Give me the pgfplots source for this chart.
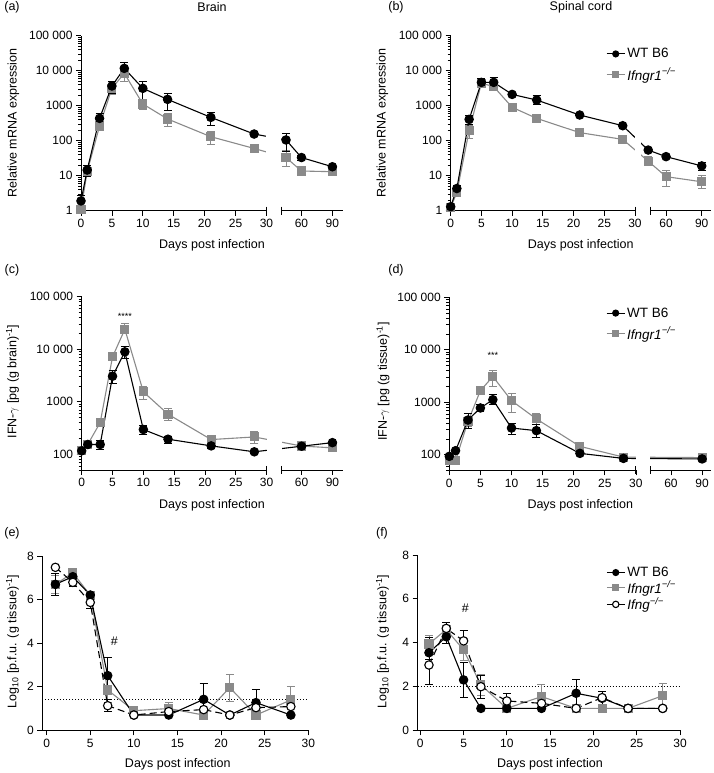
\documentclass[border=0pt]{standalone}
\usepackage{pgfplots}
\pgfplotsset{compat=1.18}
\usepackage{fontspec}
\setmainfont{Liberation Sans}

\definecolor{gr}{RGB}{138,138,138}
\newcommand\lab{\fontsize{12.5}{15}\selectfont}
\newcommand\ifngr{\textit{Ifngr1}\textsuperscript{\textit{−/−}}}
\newcommand\ifng{\textit{Ifng}\textsuperscript{\textit{−/−}}}

% axis break: white gap over the lines, split x axis line, break marks
\newcommand\gap[3]{%
  \fill[white] (rel axis cs:#1,0) rectangle (rel axis cs:#2,1);
  \draw[line width=0.8pt] (rel axis cs:0,0) -- (rel axis cs:#1,0);
  \draw[line width=0.8pt] (rel axis cs:#3,0) -- (rel axis cs:1,0);
  \draw[line width=0.8pt] ([yshift=4pt]rel axis cs:#1,0) -- ([yshift=-4pt]rel axis cs:#1,0);
  \draw[line width=0.8pt] ([yshift=4pt]rel axis cs:#3,0) -- ([yshift=-4pt]rel axis cs:#3,0);
}

\pgfplotsset{
  panelstyle/.style={
    scale only axis, anchor=south west, clip=false,
    axis lines*=left, tick align=outside, enlargelimits=false,
    axis line style={line width=0.8pt, black},
    major tick length=5pt, minor tick length=3pt,
    major tick style={line width=0.8pt, black},
    minor tick style={line width=0.6pt, black},
    tick label style={font=\fontsize{12}{14}\selectfont},
    legend style={draw=none, fill=none, font=\fontsize{13.5}{16}\selectfont, anchor=north west},
    legend cell align=left,
    legend image code/.code={\draw[mark repeat=2, mark phase=2, ##1] plot coordinates {(0pt,0pt) (9pt,0pt) (18pt,0pt)};},
  },
  decadeticks/.style={
    ytick={1,10,100,1000,10000,100000},
    yticklabels={1,10,100,1000,{10 000},{100 000}},
    minor ytick={2,3,4,5,6,7,8,9,20,30,40,50,60,70,80,90,200,300,400,500,600,700,800,900,
      2000,3000,4000,5000,6000,7000,8000,9000,20000,30000,40000,50000,60000,70000,80000,90000},
  },
  brokenx/.style={x axis line style={draw=none},
    xtick={0,5,10,15,20,25,30,60,90}, xticklabels={0,5,10,15,20,25,30,60,90}},
  serwt/.style={black, line width=1.1pt, mark=*, mark size=4.2pt, mark options={solid},
    error bars/y dir=both, error bars/y explicit,
    error bars/error bar style={line width=0.9pt, black, solid},
    error bars/error mark options={rotate=90, line width=0.9pt, mark size=4pt, black, solid}},
  serko/.style={gr, line width=1.1pt, mark=square*, mark size=4pt, mark options={solid},
    error bars/y dir=both, error bars/y explicit,
    error bars/error bar style={line width=0.9pt, gr, solid},
    error bars/error mark options={rotate=90, line width=0.9pt, mark size=4pt, gr, solid}},
  serng/.style={black, line width=1.1pt, dash pattern=on 7pt off 4pt, mark=*, mark size=4.2pt,
    mark options={solid, fill=white},
    error bars/y dir=both, error bars/y explicit,
    error bars/error bar style={line width=0.9pt, black, solid},
    error bars/error mark options={rotate=90, line width=0.9pt, mark size=4pt, black, solid}},
  legwt/.style={black, line width=1.1pt, mark=*, mark size=3pt},
  legko/.style={gr, line width=1.1pt, mark=square*, mark size=3pt},
  legng/.style={black, line width=1.1pt, mark=*, mark size=3.2pt, mark options={fill=white}},
}
\pgfplotsset{/pgf/number format/assume math mode=true}

\begin{document}
\begin{tikzpicture}[x=1pt, y=1pt]
\useasboundingbox (0,0) rectangle (713,773);

% ---------------- (a) brain mRNA
\begin{axis}[panelstyle, ymode=log, decadeticks, brokenx, at={(81pt,562.3pt)}, width=261.7pt, height=175pt,
  ymin=1, ymax=100000,
  x coord trafo/.code={\pgfmathparse{#1>30 ? 25.66+#1/6 : #1}},
  xmin=0, xmax=100]
\addplot[forget plot, serko] coordinates {
 (0,1.1) (1,13) +- (0,3) (3,262) += (0,50) -= (0,40)
 (5,3130) += (0,700) -= (0,1030) (7,8400) += (0,4600) -= (0,3500)
 (10,1120) += (0,350) -= (0,340) (14,417) += (0,183) -= (0,167)
 (21,130) += (0,51) -= (0,50) (28,60) +- (0,4)
 (45,33) += (0,21) -= (0,15) (60,13.6) +- (0,1) (90,13) +- (0,1)};
\addplot[forget plot, serwt] coordinates {
 (0,1.9) += (0,0.8) -= (0,0.5) (1,14.5) += (0,5.5) -= (0,5.1)
 (3,434) += (0,166) -= (0,114) (5,3650) += (0,1220) -= (0,1410)
 (7,11660) += (0,5240) -= (0,4660) (10,3130) += (0,1900) -= (0,1700)
 (14,1515) += (0,725) -= (0,765) (21,464) += (0,176) -= (0,184)
 (28,155) +- (0,12) (45,105) += (0,55) -= (0,57)
 (60,33) +- (0,6) (90,18) +- (0,2)};
\gap{0.7087}{0.7659}{0.7659}
\end{axis}

% ---------------- (b) spinal cord mRNA
\begin{axis}[panelstyle, ymode=log, decadeticks, brokenx, at={(450.7pt,562.3pt)}, width=260.3pt, height=175pt,
  ymin=1, ymax=100000,
  x coord trafo/.code={\pgfmathparse{#1>30 ? 23.44+0.1936*#1 : #1}},
  xmin=0, xmax=97.8,
  legend style={at={(0.585,0.951)}, row sep=4.6pt}]
\addplot[forget plot, serko] coordinates {
 (0,1.25) +- (0,0.1) (1,3.3) +- (0,0.5) (3,193) += (0,87) -= (0,76)
 (5,4400) += (0,1500) -= (0,1100) (7,3500) += (0,1000) -= (0,800)
 (10,900) +- (0,50) (14,434) +- (0,30) (21,170) +- (0,10) (28,109) +- (0,8)
 (45,26) += (0,9) -= (0,7) (60,9.4) += (0,4.6) -= (0,4.4) (90,6.7) += (0,3.3) -= (0,2.5)};
\addplot[forget plot, serwt] coordinates {
 (0,1.3) +- (0,0.2) (1,4.3) +- (0,1) (3,407) += (0,133) -= (0,107)
 (5,4640) += (0,1360) -= (0,1340) (7,4640) += (0,1660) -= (0,1140)
 (10,2100) +- (0,150) (14,1450) += (0,450) -= (0,400) (21,541) +- (0,30)
 (28,268) +- (0,20) (45,54) +- (0,4) (60,35) +- (0,2) (90,19) += (0,5) -= (0,4.5)};
\gap{0.708}{0.7316}{0.7657}
\addlegendimage{legwt}
\addlegendentry{WT B6}
\addlegendimage{legko}
\addlegendentry{\ifngr}
\end{axis}

% ---------------- (c) brain IFN-gamma
\begin{axis}[panelstyle, ymode=log, decadeticks, brokenx, at={(81.7pt,303pt)}, width=261pt, height=173.3pt,
  ymin=50, ymax=100000,
  x coord trafo/.code={\pgfmathparse{#1>30 ? 25.67+#1/6 : #1}},
  xmin=0, xmax=100]
\addplot[forget plot, serko] coordinates {
 (0,119) +- (0,10) (1,155) +- (0,8) (3,400) += (0,60) -= (0,50)
 (5,7150) +- (0,500) (7,24000) += (0,7000) -= (0,4400)
 (10,1540) += (0,380) -= (0,440) (14,578) += (0,162) -= (0,133)
 (21,190) +- (0,12) (28,213) += (0,59) -= (0,53) (60,143) +- (0,5) (90,132) +- (0,5)};
\addplot[forget plot, serwt] coordinates {
 (0,116) += (0,19) -= (0,16) (1,153) +- (0,8) (3,153) += (0,32) -= (0,30)
 (5,3060) += (0,940) -= (0,830) (7,8900) += (0,2500) -= (0,2250)
 (10,295) += (0,60) -= (0,58) (14,193) += (0,27) -= (0,33)
 (21,144) +- (0,15) (28,111) +- (0,6) (60,142) +- (0,8) (90,166) +- (0,8)};
\gap{0.7087}{0.7662}{0.7662}
\node[font=\fontsize{9}{10}\selectfont] at (axis cs:7,42000) {****};
\end{axis}

% ---------------- (d) spinal cord IFN-gamma
\begin{axis}[panelstyle, ymode=log, decadeticks, brokenx, at={(449.3pt,302.5pt)}, width=261.7pt, height=173.3pt,
  ymin=50, ymax=100000,
  x coord trafo/.code={\pgfmathparse{#1>30 ? 25.64+#1/6 : #1}},
  xmin=0, xmax=98.6,
  legend style={at={(0.587,0.964)}, row sep=4.6pt}]
\addplot[forget plot, serko] coordinates {
 (0,77) +- (0,5) (1,77) +- (0,5) (3,430) += (0,170) -= (0,80)
 (5,1660) +- (0,150) (7,3080) += (0,920) -= (0,1080)
 (10,1070) += (0,400) -= (0,430) (14,480) += (0,140) -= (0,105)
 (21,144) += (0,15) -= (0,10) (28,90) +- (0,4) (90,88) +- (0,4)};
\addplot[forget plot, serwt] coordinates {
 (0,93) +- (0,6) (1,119) +- (0,5) (3,457) += (0,143) -= (0,147)
 (5,776) += (0,124) -= (0,96) (7,1116) += (0,314) -= (0,226)
 (10,322) += (0,73) -= (0,82) (14,287) += (0,88) -= (0,72)
 (21,106) +- (0,5) (28,85) +- (0,3) (90,83) +- (0,3)};
\gap{0.7128}{0.7665}{0.7665}
\node[font=\fontsize{9}{10}\selectfont] at (axis cs:7,7800) {***};
\addlegendimage{legwt}
\addlegendentry{WT B6}
\addlegendimage{legko}
\addlegendentry{\ifngr}
\end{axis}

% ---------------- (e) brain titres
\begin{axis}[panelstyle, at={(42.3pt,42.7pt)}, width=266pt, height=174.3pt,
  xmin=-0.5, xmax=30, ymin=0, ymax=8,
  xtick={0,5,10,15,20,25,30}, ytick={0,2,4,6,8}]
\addplot[black, line width=0.6pt, dash pattern=on 0.8pt off 2.2pt, forget plot]
 coordinates {(-0.5,1.4) (30,1.4)};
\addplot[forget plot, serko] coordinates {
 (1,6.7) +- (0,0.4) (3,7.23) +- (0,0.12) (5,6.2) +- (0,0.15)
 (7,1.85) += (0,0.65) -= (0,0.55) (10,0.9) (14,1.0) +- (0,0.3)
 (18,0.7) (21,1.96) +- (0,0.62) (24,0.7) (28,1.39) +- (0,0.64)};
\addplot[forget plot, serwt] coordinates {
 (1,6.7) +- (0,0.52) (3,7.05) +- (0,0.15) (5,6.21) +- (0,0.1)
 (7,2.51) += (0,0.84) -= (0,0.8) (10,0.7) (14,0.7)
 (18,1.42) += (0,0.73) -= (0,0.6) (21,0.7) (24,1.27) += (0,0.6) -= (0,0.45) (28,0.7)};
\addplot[forget plot, serng] coordinates {
 (1,7.48) (3,6.79) +- (0,0.2) (5,5.87) +- (0,0.3) (7,1.13) +- (0,0.28)
 (10,0.7) (14,0.86) (18,0.95) (21,0.7) (24,1.04) (28,1.09)};
\node[font=\lab] at (axis cs:7.75,4.07) {\#};
\end{axis}

% ---------------- (f) spinal cord titres
\begin{axis}[panelstyle, at={(417.7pt,42.7pt)}, width=262.3pt, height=175.3pt,
  xmin=-0.3, xmax=30, ymin=0, ymax=8,
  xtick={0,5,10,15,20,25,30}, ytick={0,2,4,6,8},
  legend style={at={(0.7065,0.955)}, row sep=-1pt}]
\addplot[black, line width=0.6pt, dash pattern=on 0.8pt off 2.2pt, forget plot]
 coordinates {(-0.3,2) (30,2)};
\addplot[forget plot, serko] coordinates {
 (1,3.94) +- (0,0.38) (3,4.6) +- (0,0.3) (5,3.67) +- (0,0.5) (7,2.07) +- (0,0.5)
 (10,1.0) (14,1.54) +- (0,0.53) (18,1.0) (21,1.0) +- (0,0.2) (24,1.0) (28,1.58) +- (0,0.56)};
\addplot[forget plot, serwt] coordinates {
 (1,3.54) +- (0,0.3) (3,4.27) +- (0,0.3) (5,2.3) +- (0,0.8) (7,1.0) (10,1.0) (14,1.0)
 (18,1.69) +- (0,0.65) (21,1.46) +- (0,0.3) (24,1.0) (28,1.0)};
\addplot[forget plot, serng] coordinates {
 (1,2.98) += (0,1.25) -= (0,0.9) (3,4.65) +- (0,0.25) (5,4.08) +- (0,0.48)
 (7,1.99) +- (0,0.53) (10,1.34) +- (0,0.35) (14,1.23) (18,1.0)
 (21,1.49) +- (0,0.3) (24,1.0) (28,1.0)};
\node[font=\lab] at (axis cs:5.2,5.57) {\#};
\addlegendimage{legwt}
\addlegendentry{WT B6}
\addlegendimage{legko}
\addlegendentry{\ifngr}
\addlegendimage{legng}
\addlegendentry{\ifng}
\end{axis}

% ---------------- titles, panel letters, axis labels
\begin{scope}[every node/.style={font=\lab}]
\node at (212,766) {Brain};
\node at (581,766) {Spinal cord};
\node at (12,766) {(a)};
\node at (396,766) {(b)};
\node at (12,503) {(c)};
\node at (396,503) {(d)};
\node at (12,240) {(e)};
\node at (382,240) {(f)};
\node[rotate=90] at (13.3,650) {Relative mRNA expression};
\node[rotate=90] at (382.5,650) {Relative mRNA expression};
\node[rotate=90] at (12.5,391.5) {IFN-$\gamma$ [pg (g brain)\textsuperscript{-1}]};
\node[rotate=90] at (383,391.5) {IFN-$\gamma$ [pg (g tissue)\textsuperscript{-1}]};
\node[rotate=90] at (12.5,131.3) {Log\textsubscript{10} [p.f.u. (g tissue)\textsuperscript{-1}]};
\node[rotate=90] at (382.5,131.3) {Log\textsubscript{10} [p.f.u. (g tissue)\textsuperscript{-1}]};
\node at (212,528) {Days post infection};
\node at (580.7,528) {Days post infection};
\node at (212,268) {Days post infection};
\node at (580.3,268) {Days post infection};
\node at (177.8,8.5) {Days post infection};
\node at (550,8.5) {Days post infection};
\end{scope}
\end{tikzpicture}
\end{document}
